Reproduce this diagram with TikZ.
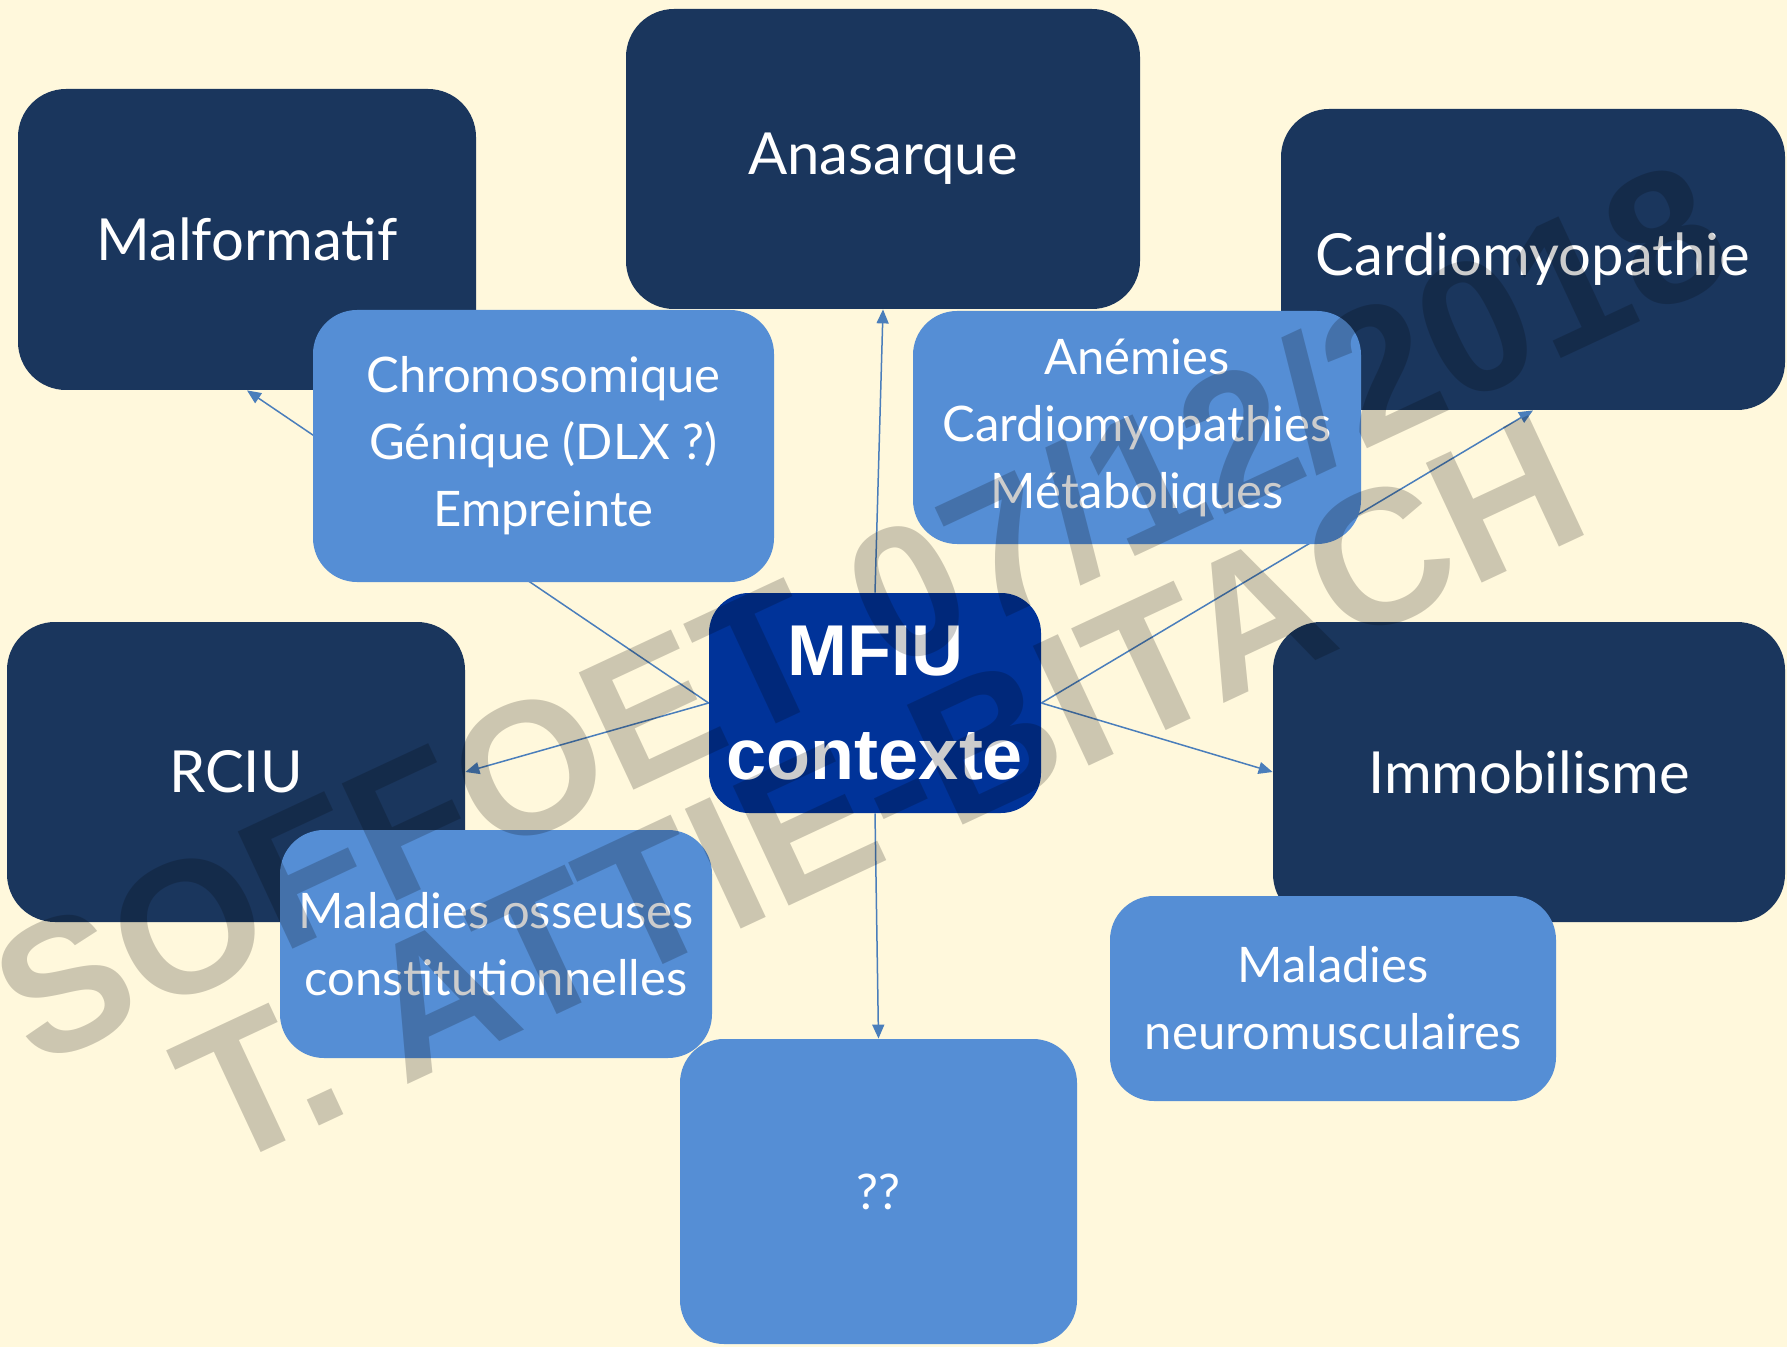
\documentclass[tikz,border=0pt]{standalone}
\usepackage{fontspec}
\setmainfont{Lato}
\newfontfamily\headfont{Liberation Sans}
\usetikzlibrary{arrows.meta}

\definecolor{cream}{HTML}{FFF8DC}
\definecolor{navy}{HTML}{1A365D}
\definecolor{skyblue}{HTML}{558ED5}
\definecolor{royal}{HTML}{003399}
\definecolor{linkblue}{HTML}{4A7EBB}

\begin{document}
\begin{tikzpicture}[
  x=0.5pt, y=-0.5pt,
  darkbox/.style={rectangle, rounded corners=24pt, fill=navy, text=white, inner sep=0pt,
    align=center, font=\fontsize{29}{34}\selectfont},
  lightbox/.style={rectangle, rounded corners=22pt, fill=skyblue, text=white, inner sep=0pt,
    align=center, font=\fontsize{24.5}{33.5}\selectfont},
  mainbox/.style={rectangle, rounded corners=20pt, fill=royal, text=white, inner sep=0pt,
    align=center, font=\headfont\bfseries\fontsize{36}{52}\selectfont},
  link/.style={draw=linkblue, line width=0.75pt, -{Triangle[length=7pt,width=6pt]}},
  stamp/.style={text=black, text opacity=0.2, rotate=25, inner sep=0pt}
]

% Page
\useasboundingbox (0,0) rectangle (1787,1347);
\fill[cream] (0,0) rectangle (1787,1347);

% Main categories
\node[darkbox, minimum width=229pt, minimum height=150.5pt] (malf) at (247,239.5) {Malformatif};
\node[darkbox, minimum width=257pt, minimum height=150pt] (anas) at (883,159) {Anasarque};
\node[darkbox, minimum width=252pt, minimum height=150.5pt] (cardio) at (1533,259.5) {Cardiomyopathie};
\node[darkbox, minimum width=229pt, minimum height=150pt] (rciu) at (236,772) {RCIU};
\node[darkbox, minimum width=256pt, minimum height=150pt] (immo) at (1529,772) {Immobilisme};
\node[lightbox, minimum width=198.5pt, minimum height=152.5pt] (unknown) at (878.5,1191.5) {??};

% Centre
\node[mainbox, minimum width=166pt, minimum height=110pt] (mfiu) at (875,703) {MFIU\\contexte};

% Links
\draw[link] (mfiu.west) -- (malf.south);
\draw[link] (mfiu.north) -- (anas.south);
\draw[link] (mfiu.east) -- (cardio.south);
\draw[link] (mfiu.west) -- (rciu.east);
\draw[link] (mfiu.east) -- (immo.west);
\draw[link] (mfiu.south) -- (unknown.north);

% Causes
\node[lightbox, minimum width=230.5pt, minimum height=136pt] (chromo) at (543.5,446)
  {Chromosomique\\Génique (DLX ?)\\Empreinte};
\node[lightbox, minimum width=224pt, minimum height=116.5pt] (anemia) at (1137,427.5)
  {Anémies\\Cardiomyopathies\\Métaboliques};
\node[lightbox, minimum width=216pt, minimum height=114pt] (bone) at (496,944)
  {Maladies osseuses\\constitutionnelles};
\node[lightbox, minimum width=223pt, minimum height=102.5pt] (neuro) at (1333,998.5)
  {Maladies\\neuromusculaires};

% Watermark
\node[stamp, font=\headfont\bfseries\fontsize{94}{94}\selectfont] (stampdate) at (860,612)
  {SOFFOET 07/12/2018};
\node[stamp, font=\headfont\bfseries\fontsize{96}{96}\selectfont] (stampname) at (880,791)
  {T. ATTIE-BITACH};

\end{tikzpicture}
\end{document}
